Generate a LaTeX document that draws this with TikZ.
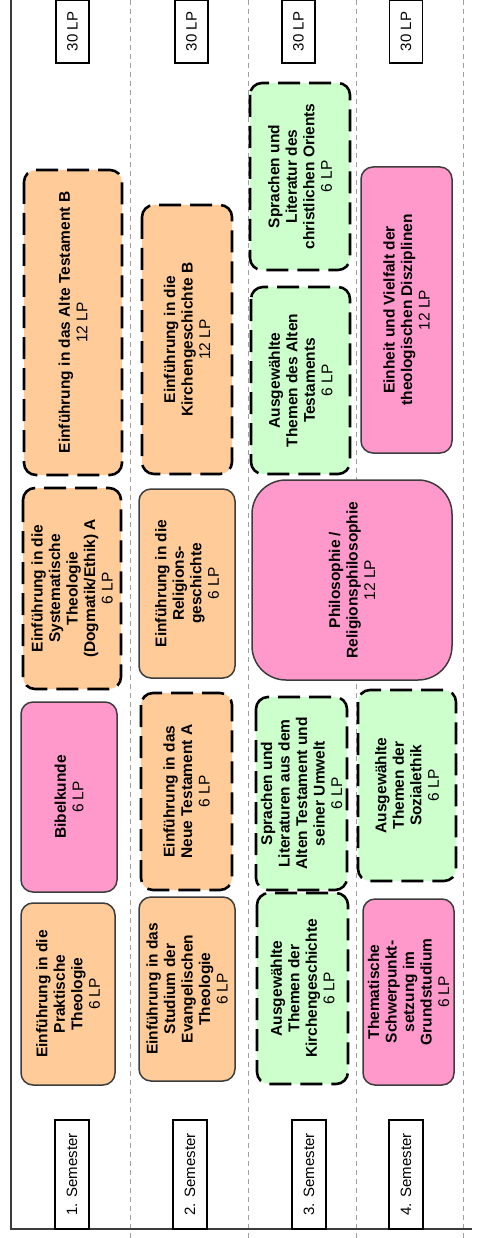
\documentclass[tikz,border=0pt]{standalone}
\usepackage{fontspec}
\setmainfont{Liberation Sans}
\usepackage{tikz}
\usetikzlibrary{positioning}
\definecolor{CourseOrange}{HTML}{FFCC99}
\definecolor{CoursePink}{HTML}{FF99CC}
\definecolor{CourseGreen}{HTML}{CCFFCC}
\definecolor{FrameGray}{HTML}{3C3C3C}
\definecolor{SepGray}{HTML}{A0A0A0}
\tikzset{
  modulebox/.style={rectangle, rotate=90, rounded corners=12pt, align=center, inner sep=2pt, font=\fontsize{15.5}{17.5}\selectfont\bfseries},
  solidmod/.style={modulebox, draw=FrameGray, line width=1.5pt},
  dashmod/.style={modulebox, draw=black, line width=2.6pt, dash pattern=on 22pt off 9pt},
  orangebox/.style={solidmod, fill=CourseOrange},
  orangedash/.style={dashmod, fill=CourseOrange},
  pinkbox/.style={solidmod, fill=CoursePink},
  greendash/.style={dashmod, fill=CourseGreen},
  dims/.style 2 args={minimum width=#1pt, minimum height=#2pt},
  labelbox/.style={rectangle, rotate=90, draw=black, fill=white, line width=1.2pt, inner sep=1pt, font=\fontsize{15}{17}\selectfont},
  sepline/.style={SepGray, line width=1pt, dash pattern=on 5pt off 4pt}
}
\newcommand{\lp}[1]{{\mdseries #1 LP}}

\begin{document}
\begin{tikzpicture}[x=1pt, y=-1pt]
  \useasboundingbox (0,0) rectangle (479,1238);
  % frame and semester separators
  \foreach \sx in {130, 248, 356, 463} {
    \draw[sepline] (\sx,0) -- (\sx,1238);
  }
  \draw[FrameGray, line width=1.2pt] (11,0) -- (11,1229) -- (472,1229);

  % 1. Semester
  \node[orangedash, dims={305}{98}] (atb) at (73,322.5) {Einführung in das Alte Testament B\\\lp{12}};
  \node[orangedash, dims={201}{98}] (sysa) at (72,588.5) {Einführung in die\\Systematische\\Theologie\\(Dogmatik/Ethik) A\\\lp{6}};
  \node[pinkbox, dims={190}{96}] (bibel) at (69,797) {Bibelkunde\\\lp{6}};
  \node[orangebox, dims={182}{94}] (prakt) at (68,994) {Einführung in die\\Praktische\\Theologie\\\lp{6}};

  % 2. Semester
  \node[orangedash, dims={269}{90}] (kgb) at (187,339.5) {Einführung in die\\Kirchengeschichte B\\\lp{12}};
  \node[orangebox, dims={189}{96}] (relg) at (187,583.5) {Einführung in die\\Religions-\\geschichte\\\lp{6}};
  \node[orangedash, dims={197}{91}] (nta) at (186.5,791.5) {Einführung in das\\Neue Testament A\\\lp{6}};
  \node[orangebox, dims={184}{96}] (studium) at (187,989) {Einführung in das\\Studium der\\Evangelischen\\Theologie\\\lp{6}};

  % 3. Semester
  \node[greendash, dims={187}{100}] (orient) at (300,176.5) {Sprachen und\\Literatur des\\christlichen Orients\\\lp{6}};
  \node[greendash, dims={187}{99}] (atthemen) at (300.5,380.5) {Ausgewählte\\Themen des Alten\\Testaments\\\lp{6}};
  \node[pinkbox, rounded corners=34pt, dims={200}{200}] (philo) at (352,580) {Philosophie /\\Religionsphilosophie\\\lp{12}};
  \node[greendash, dims={193}{91}] (umwelt) at (301.5,793.5) {Sprachen und\\Literaturen aus dem\\Alten Testament und\\seiner Umwelt\\\lp{6}};
  \node[greendash, dims={191}{91}] (kgthemen) at (302.5,988.5) {Ausgewählte\\Themen der\\Kirchengeschichte\\\lp{6}};

  % 4. Semester
  \node[pinkbox, dims={286}{91}] (einheit) at (406.5,310) {Einheit und Vielfalt der\\theologischen Disziplinen\\\lp{12}};
  \node[greendash, dims={191}{98}] (sozial) at (407,785.5) {Ausgewählte\\Themen der\\Sozialethik\\\lp{6}};
  \node[pinkbox, dims={186}{91}] (schwer) at (408.5,992) {Thematische\\Schwerpunkt-\\setzung im\\Grundstudium\\\lp{6}};

  % credit and semester labels
  \node[labelbox, dims={63}{33}] (lpa) at (72.5,31.5) {30 LP};
  \node[labelbox, dims={63}{33}] (lpb) at (191.5,31.5) {30 LP};
  \node[labelbox, dims={63}{33}] (lpc) at (298.5,31.5) {30 LP};
  \node[labelbox, dims={63}{33}] (lpd) at (406,31.5) {30 LP};
  \node[labelbox, dims={109}{34}] (sema) at (72,1174.5) {1. Semester};
  \node[labelbox, dims={109}{34}] (semb) at (190,1174.5) {2. Semester};
  \node[labelbox, dims={109}{34}] (semc) at (309,1174.5) {3. Semester};
  \node[labelbox, dims={109}{34}] (semd) at (406,1174.5) {4. Semester};
\end{tikzpicture}
\end{document}
